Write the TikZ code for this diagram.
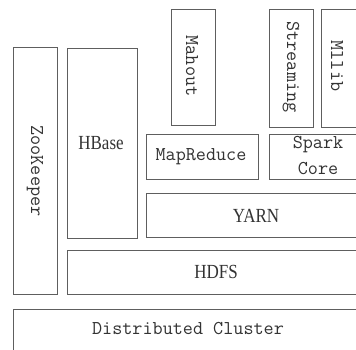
\documentclass[tikz,border=0pt]{standalone}
\usepackage{fontspec}
\setmainfont{Liberation Serif}
\definecolor{boxgray}{HTML}{5E5E5E}
\definecolor{textgray}{HTML}{333333}
\tikzset{
	box/.style={draw=boxgray, line width=1.3pt, anchor=north west, inner sep=0pt},
	lbl/.style={text=textgray, font=\fontsize{19.6}{26}\selectfont\ttfamily, inner sep=0pt, align=center},
	slbl/.style={text=textgray, font=\fontsize{20}{24}\selectfont\rmfamily, inner sep=0pt, xscale=.85}
}
\begin{document}
\begin{tikzpicture}[x=1pt,y=-1pt]
	\path[use as bounding box, clip] (0,0) rectangle (356,349);
	\fill[white] (0,0) rectangle (356,349);
	
	% layers: name/left/top/width/height
	\foreach \name/\xl/\yt/\w/\h in {zk/13/47/44/247, hb/67/48/70/190, mh/171/9/44/116,
		st/269/9/44/118, ml/321/9/60/118, mr/146/134/112/45, sc/269/134/110/45,
		yn/146/193/230/44, hd/67/250/310/44, dc/13/309/370/60}
	\node[box, minimum width=\w pt, minimum height=\h pt] (\name) at (\xl,\yt) {};
	
	\node[lbl, rotate=-90] (zktext) at (35,171) {ZooKeeper};
	\node[slbl] (hbtext) at (101,143) {HBase};
	\node[lbl, rotate=-90] (mhtext) at (192,66) {Mahout};
	\node[lbl, rotate=-90] (sttext) at (291,67) {Streaming};
	\node[lbl, rotate=-90] (mltext) at (337,66) {Mllib};
	\node[lbl] (mrtext) at (201,157) {MapReduce};
	\node[lbl] (sctext) at (318,156) {Spark\\Core};
	\node[slbl] (yntext) at (256,216) {YARN};
	\node[slbl] (hdtext) at (216,272) {HDFS};
	\node[lbl] (dctext) at (188,329) {Distributed Cluster};
\end{tikzpicture}
\end{document}
